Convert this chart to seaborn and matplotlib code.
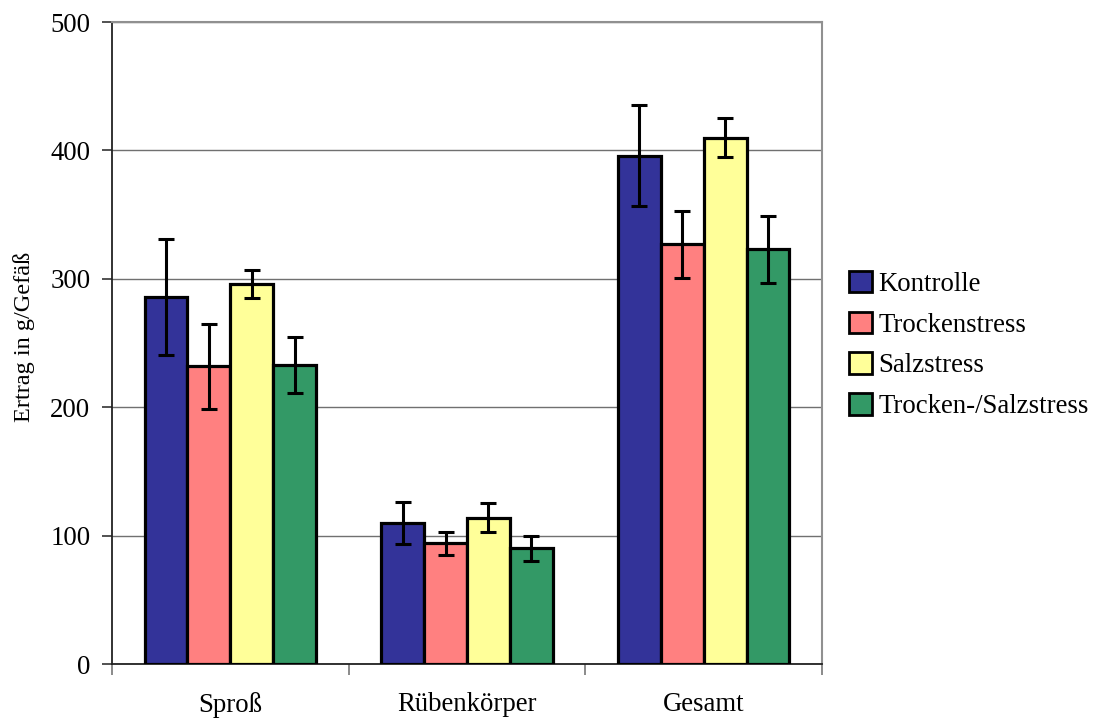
import matplotlib
matplotlib.use("Agg")
import matplotlib.pyplot as plt
import seaborn as sns
import pandas as pd
import numpy as np
from matplotlib.patches import Patch

categories = ["Sproß", "Rübenkörper", "Gesamt"]
series = ["Kontrolle", "Trockenstress", "Salzstress", "Trocken-/Salzstress"]
kontrolle = [286, 110, 396]
trockenstress = [232, 94, 327]
salzstress = [296, 114, 410]
trocken_salz = [233, 90, 323]
err_kontrolle = [45, 16.5, 39]
err_trocken = [33, 9, 26]
err_salz = [11, 11.5, 15]
err_trocken_salz = [22, 10, 26]
colors = ["#333399", "#FF8080", "#FFFF99", "#339966"]

vals = [kontrolle, trockenstress, salzstress, trocken_salz]
errs = [err_kontrolle, err_trocken, err_salz, err_trocken_salz]
rows = []
for s, v, e in zip(series, vals, errs):
    for c, vi, ei in zip(categories, v, e):
        rows.append({"Teil": c, "Variante": s, "Ertrag": vi, "Fehler": ei})
df = pd.DataFrame(rows)

sns.set_style("white")
plt.rcParams["font.family"] = ["Liberation Serif", "DejaVu Serif"]
plt.rcParams["text.color"] = "black"
plt.rcParams["axes.labelcolor"] = "black"
plt.rcParams["xtick.labelcolor"] = "black"
plt.rcParams["ytick.labelcolor"] = "black"

fig = plt.figure(figsize=(10.94, 7.22), dpi=100)
ax = fig.add_axes([0.1024, 0.0803, 0.649, 0.8892])

sns.barplot(data=df, x="Teil", y="Ertrag", hue="Variante", order=categories,
            hue_order=series, palette=colors, errorbar=None, width=0.725,
            edgecolor="black", linewidth=2.3, saturation=1, ax=ax, legend=False, zorder=3)

# error bars from patch positions
patches = [p for p in ax.patches if p.get_height() > 0]
for p in patches:
    x = p.get_x() + p.get_width() / 2
    h = p.get_height()
    match = df[np.isclose(df["Ertrag"], h)]
    e = match["Fehler"].iloc[0]
    ax.errorbar(x, h, yerr=e, ecolor="black", elinewidth=2.2, capsize=6,
                capthick=2.2, fmt="none", zorder=4)

ax.set_ylim(0, 500)
ax.set_xlim(-0.5, 2.5)
ax.set_yticks([0, 100, 200, 300, 400, 500])
ax.yaxis.grid(True, color="#707070", linewidth=1.0, zorder=0)
ax.set_axisbelow(True)
ax.tick_params(axis="y", labelsize=19.3, length=7, width=1.2, color="#333333",
               left=True, direction="out", pad=8.5, labelcolor="black")

ax.set_xticks([-0.5, 0.5, 1.5, 2.5])
ax.set_xticklabels([])
ax.set_xticks([0, 1, 2], minor=True)
ax.set_xticklabels(categories, minor=True, fontsize=19.3, color="black")
ax.tick_params(axis="x", which="major", length=8, width=1.2, color="#777777",
               bottom=True, direction="out")
ax.tick_params(axis="x", which="minor", length=0, pad=20.5)

ax.set_xlabel("")
ax.set_ylabel("Ertrag in g/Gefäß", fontsize=17.5, color="black")
ax.yaxis.label.set_va("center")
ax.yaxis.set_label_coords(-0.124, 0.509)

for side in ["left", "bottom"]:
    ax.spines[side].set_color("#222222")
    ax.spines[side].set_linewidth(1.3)
for side in ["top", "right"]:
    ax.spines[side].set_visible(True)
    ax.spines[side].set_color("#909090")
    ax.spines[side].set_linewidth(1.5)

handles = [Patch(facecolor=c, edgecolor="black", linewidth=2) for c in colors]
leg = fig.legend(handles, series, loc="center left", bbox_to_anchor=(0.766, 0.522),
                 frameon=False, fontsize=19.3, handlelength=0.85, handleheight=0.85,
                 handletextpad=0.25, labelspacing=0.55, borderaxespad=0)
for t in leg.get_texts():
    t.set_color("black")

fig.savefig("out.png", dpi=100, facecolor="white")
